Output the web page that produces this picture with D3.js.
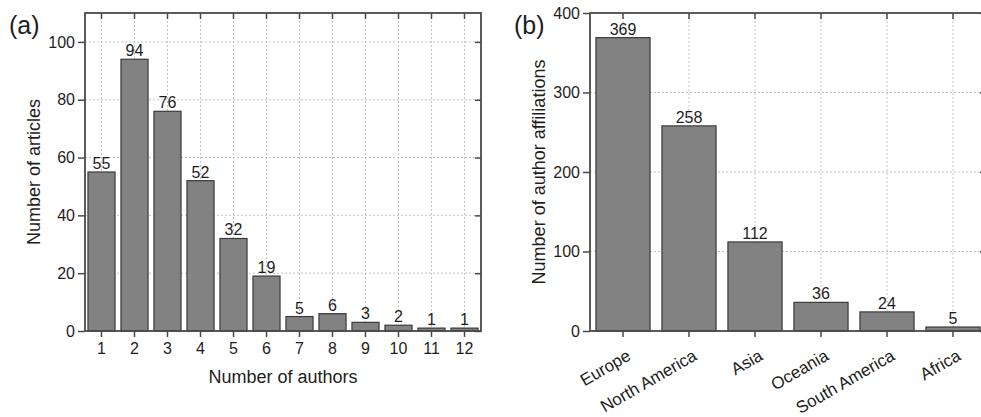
<!DOCTYPE html>
<html><head><meta charset="utf-8">
<script src="https://cdn.jsdelivr.net/npm/d3@7/dist/d3.min.js"></script>
<style>
body{margin:0;background:#fff;}
svg{display:block;font-family:"Liberation Sans",Arial,sans-serif;}
</style></head><body>
<svg id="c" width="981" height="417"></svg>
<script>
// Panel (a)
const authorsCats = ["1","2","3","4","5","6","7","8","9","10","11","12"];
const articlesVals = [55,94,76,52,32,19,5,6,3,2,1,1];
const aYTicks = [0,20,40,60,80,100];
// Panel (b)
const regionCats = ["Europe","North America","Asia","Oceania","South America","Africa"];
const affilVals = [369,258,112,36,24,5];
const bYTicks = [0,100,200,300,400];

const svg = d3.select("#c");
const barFill = "#828282", barStroke = "#3a3a3a", frameCol = "#4a4a4a", gridCol = "#c4c4c4", txt = "#1e1e1e";

function panel(opt){
  const g = svg.append("g");
  const x = d3.scaleBand().domain(opt.cats).range([opt.left, opt.right]).paddingInner(0.18).paddingOuter(0.09);
  const y = d3.scaleLinear().domain(opt.ydom).range([331, 13]);
  const top = 13, bottom = 331;
  // grid
  g.append("g").selectAll("line").data(opt.yticks.filter(d=>d>0 && d<opt.ydom[1])).join("line")
    .attr("x1", opt.left).attr("x2", opt.right).attr("y1", d=>y(d)).attr("y2", d=>y(d))
    .attr("stroke", gridCol).attr("stroke-width",1).attr("stroke-dasharray","2,2");
  g.append("g").selectAll("line").data(opt.cats).join("line")
    .attr("x1", d=>x(d)+x.bandwidth()/2).attr("x2", d=>x(d)+x.bandwidth()/2).attr("y1", top).attr("y2", bottom)
    .attr("stroke", gridCol).attr("stroke-width",1).attr("stroke-dasharray","2,2");
  // bars
  g.append("g").selectAll("rect").data(opt.vals).join("rect")
    .attr("x",(d,i)=>x(opt.cats[i])).attr("width", x.bandwidth())
    .attr("y", d=>y(d)).attr("height", d=>y(0)-y(d))
    .attr("fill", barFill).attr("stroke", barStroke).attr("stroke-width",1.2);
  // value labels
  g.append("g").selectAll("text").data(opt.vals).join("text")
    .attr("x",(d,i)=>x(opt.cats[i])+x.bandwidth()/2).attr("y", d=>y(d)-3)
    .attr("text-anchor","middle").attr("font-size",16).attr("fill",txt).text(d=>d);
  // axes
  const left = g.append("g").attr("transform",`translate(${opt.left},0)`)
    .call(d3.axisLeft(y).tickValues(opt.yticks).tickSize(7).tickPadding(3).tickSizeOuter(0));
  const bot = g.append("g").attr("transform",`translate(0,${bottom})`)
    .call(d3.axisBottom(x).tickSize(6).tickPadding(6).tickSizeOuter(0));
  const topAx = g.append("g").attr("transform",`translate(0,${top})`)
    .call(d3.axisBottom(x).tickSize(6).tickFormat("").tickSizeOuter(0));
  const rightAx = g.append("g").attr("transform",`translate(${opt.right},0)`)
    .call(d3.axisLeft(y).tickValues(opt.yticks).tickSize(6).tickFormat("").tickSizeOuter(0));
  [left,bot,topAx,rightAx].forEach(a=>{
    a.select(".domain").remove();
    a.selectAll("line").attr("stroke", frameCol).attr("stroke-width",1.5);
    a.selectAll("text").attr("font-size",16).attr("fill",txt).attr("font-family","Liberation Sans, Arial, sans-serif");
  });
  if(opt.rotate){
    bot.selectAll("text").attr("text-anchor","end").attr("y",0).attr("dy",0)
      .attr("font-size",17)
      .attr("transform","translate(9,28) rotate(-30)");
  }
  // frame
  g.append("rect").attr("x",opt.left).attr("y",top).attr("width",opt.right-opt.left).attr("height",bottom-top)
    .attr("fill","none").attr("stroke",frameCol).attr("stroke-width",1.8);
  // titles
  g.append("text").attr("transform",`translate(${opt.ytx},${(top+bottom)/2}) rotate(-90)`)
    .attr("text-anchor","middle").attr("font-size",18).attr("fill",txt).text(opt.ytitle);
  if(opt.xtitle){
    g.append("text").attr("x",(opt.left+opt.right)/2).attr("y",383)
      .attr("text-anchor","middle").attr("font-size",18).attr("fill",txt).text(opt.xtitle);
  }
  g.append("text").attr("x",opt.lx).attr("y",34).attr("font-size",25).attr("fill",txt).text(opt.letter);
}

panel({cats:authorsCats, vals:articlesVals, yticks:aYTicks, ydom:[0,110], left:85, right:481,
  ytitle:"Number of articles", ytx:40, xtitle:"Number of authors", letter:"(a)", lx:9});
panel({cats:regionCats, vals:affilVals, yticks:bYTicks, ydom:[0,400], left:590, right:986, rotate:true,
  ytitle:"Number of author affiliations", ytx:545, letter:"(b)", lx:514});
</script>
</body></html>
